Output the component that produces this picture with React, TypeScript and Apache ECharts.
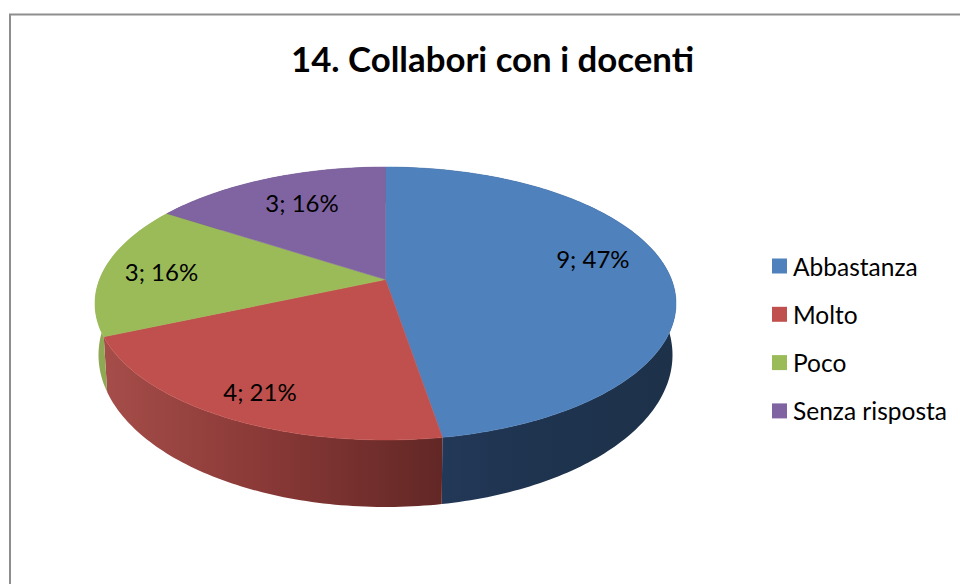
import React, { useEffect, useRef } from "react";
import * as echarts from "echarts";

const TITLE = "14. Collabori con i docenti";
const categories = ["Abbastanza", "Molto", "Poco", "Senza risposta"];
const counts = [9, 4, 3, 3];
const topColors = ["#4f81bd", "#c0504d", "#9bbb59", "#8064a2"];
const wallStops = [
  ["#263c5e", "#1f3450", "#1d3149"],
  ["#a54d49", "#8b3a38", "#622725"],
  ["#8fa955", "#8aa44f", "#84a04b"],
  ["#4a3a60", "#453658", "#403250"],
];
// Label placement relative to each slice's middle: radius share and angle shift (degrees).
const labelRadius = [0.763, 0.83, 0.795, 0.725];
const labelShift = [-7.5, -1, 0, 1.8];

const FONT = "Lato, 'Open Sans', sans-serif";
const total = counts.reduce((a, b) => a + b, 0);
const TILT = -0.175;
const TOP = { cx: 385.5, cy: 303.5, rx: 290.5, ry: 136.5 };
const BOTTOM = { cx: 385.5, cy: 355, rx: 287, ry: 152 };

// Projects a point of the unit disc (angle clockwise from 12 o'clock) with perspective.
function project(deg: number, r: number, e: typeof TOP): number[] {
  const t = (deg * Math.PI) / 180;
  const X = r * Math.sin(t);
  const Y = -r * Math.cos(t);
  const d = 1 + TILT * Y;
  return [
    e.cx + (e.rx * X * Math.sqrt(1 - TILT * TILT)) / d,
    e.cy + (e.ry * (Y + TILT)) / d,
  ];
}

function rim(start: number, end: number, e: typeof TOP): number[][] {
  const n = Math.max(2, Math.ceil(end - start));
  const pts: number[][] = [];
  for (let i = 0; i <= n; i++) pts.push(project(start + ((end - start) * i) / n, 1, e));
  return pts;
}

function buildSeries() {
  let running = 0;
  return categories.map((name, i) => {
    const start = (running / total) * 360;
    running += counts[i];
    const end = (running / total) * 360;
    return {
      type: "custom",
      name,
      coordinateSystem: "none",
      silent: true,
      itemStyle: { color: topColors[i] },
      data: [[start, end, counts[i]]],
      renderItem: (_: any, api: any) => {
        const s = api.value(0) as number;
        const e = api.value(1) as number;
        const count = api.value(2) as number;
        const topRim = rim(s, e, TOP);
        const botRim = rim(s, e, BOTTOM).reverse();
        const mid = (s + e) / 2 + labelShift[i];
        const [lx, ly] = project(mid, labelRadius[i], TOP);
        const stops = wallStops[i];
        return {
          type: "group",
          children: [
            {
              type: "polygon",
              z2: 1,
              shape: { points: topRim.concat(botRim) },
              style: {
                fill: new echarts.graphic.LinearGradient(0, 0, 1, 0, [
                  { offset: 0, color: stops[0] },
                  { offset: 0.45, color: stops[1] },
                  { offset: 1, color: stops[2] },
                ]),
              },
            },
            {
              type: "polygon",
              z2: 10,
              shape: { points: [project(0, 0, TOP), ...topRim] },
              style: { fill: topColors[i], stroke: topColors[i], lineWidth: 0.5 },
            },
            {
              type: "text",
              z2: 20,
              style: {
                x: lx,
                y: ly,
                text: `${count}; ${Math.round((count / total) * 100)}%`,
                fill: "#000000",
                font: `24px ${FONT}`,
                align: "center",
                verticalAlign: "middle",
              },
            },
          ],
        };
      },
    };
  });
}

export default function App() {
  const ref = useRef<HTMLDivElement>(null);
  useEffect(() => {
    const chart = echarts.init(ref.current!, null, { renderer: "svg" });
    chart.setOption({
      animation: false,
      backgroundColor: "#ffffff",
      title: {
        text: TITLE,
        left: 487.5,
        top: 36,
        textAlign: "center",
        textStyle: { fontFamily: FONT, fontWeight: "bold", fontSize: 34.8, color: "#000000" },
      },
      legend: {
        data: categories,
        orient: "vertical",
        left: 772,
        top: 253.5,
        padding: 0,
        itemWidth: 15,
        itemHeight: 15,
        itemGap: 23.3,
        icon: "rect",
        selectedMode: false,
        textStyle: { fontFamily: FONT, fontSize: 24.5, color: "#000000", padding: [0, 0, 0, 1] },
      },
      graphic: [
        {
          type: "polyline",
          silent: true,
          shape: { points: [[10, 584], [10, 14.5], [960, 14.5]] },
          style: { fill: "none", stroke: "#8e8e8e", lineWidth: 2 },
        },
      ],
      series: buildSeries(),
    });
    return () => chart.dispose();
  }, []);
  return <div ref={ref} style={{ position: "absolute", left: 0, top: 0, width: 960, height: 584 }} />;
}
